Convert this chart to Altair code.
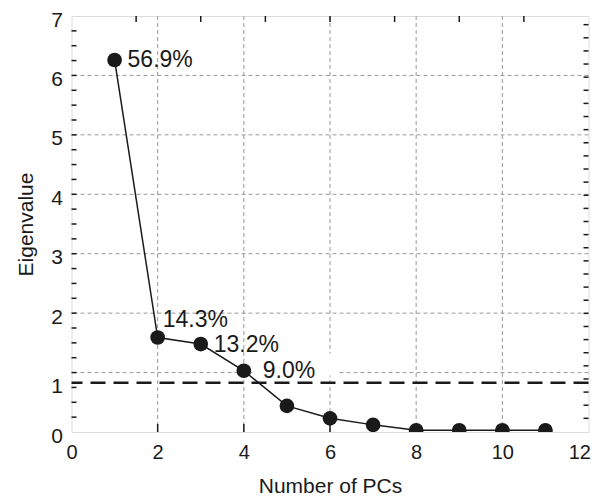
import altair as alt
import pandas as pd

pcs = [1, 2, 3, 4, 5, 6, 7, 8, 9, 10, 11]
eigen = [6.26, 1.59, 1.48, 1.03, 0.44, 0.23, 0.12, 0.03, 0.03, 0.03, 0.03]
pct_labels = ["56.9%", "14.3%", "13.2%", "9.0%"]
threshold = 0.83
y_grid = [1, 2, 3, 4, 5, 6]
x_grid = [2, 4, 6, 8, 10]
y_axis_vals = [0, 0.83, 2, 3, 4, 5, 6, 7]
x_axis_vals = [0, 2, 4, 6, 8, 10, 12]
left_minor = [i * 0.25 for i in range(1, 28)]
right_minor = [0.23 + i * 0.2208 for i in range(0, 31)]
top_ticks = [1.5, 3, 4.5, 6, 7.5, 9, 10.5]
bottom_ticks = [2, 4, 6, 8, 10]

FONT = "Liberation Sans"
NARROW = "Liberation Sans Narrow, Liberation Sans"
W, H = 517, 416

df = pd.DataFrame({"pc": pcs, "ev": eigen})
xs = alt.Scale(domain=[0, 12], nice=False)
ys = alt.Scale(domain=[0, 7], nice=False)

xax = alt.Axis(values=x_axis_vals, grid=False, ticks=False, domain=False,
               labelFontSize=20, labelFont=FONT, labelColor="#1a1a1a",
               labelPadding=10, title="Number of PCs", titleFont=FONT,
               titleFontSize=21, titleFontWeight="normal", titleColor="#1a1a1a",
               titlePadding=13, labelFlush=False,
               labelAlign=alt.condition("datum.value == 12", alt.value("right"), alt.value("center")),
               labelOffset=alt.condition("datum.value == 12", alt.value(2), alt.value(0)))
yax = alt.Axis(values=y_axis_vals, grid=False, ticks=False, domain=False,
               labelExpr="format(round(datum.value), 'd')",
               labelFontSize=21, labelFont=FONT, labelColor="#1a1a1a",
               labelPadding=9, labelOffset=4, title="Eigenvalue", titleFont=FONT,
               titleFontSize=21, titleFontWeight="normal", titleColor="#1a1a1a",
               titlePadding=14, labelFlush=False)

X = alt.X("pc:Q", scale=xs, axis=xax)
Y = alt.Y("ev:Q", scale=ys, axis=yax)

grid_style = dict(color="#999999", strokeDash=[4, 3], strokeWidth=1)

ygrid = alt.Chart(pd.DataFrame({"ev": y_grid})).mark_rule(**grid_style).encode(y=Y)
xgrid = alt.Chart(pd.DataFrame({"pc": x_grid})).mark_rule(**grid_style).encode(x=X)

box = alt.Chart(pd.DataFrame({"pc": [4.2], "pc2": [6.2], "ev": [0.95], "ev2": [1.32]})).mark_rect(
    color="white").encode(x=X, x2="pc2:Q", y=Y, y2="ev2:Q")

thr = alt.Chart(pd.DataFrame({"ev": [threshold]})).mark_rule(
    color="#1a1a1a", strokeWidth=2.5, strokeDash=[15, 8]).encode(y=Y)

line = alt.Chart(df).mark_line(color="#1a1a1a", strokeWidth=1.5, clip=True).encode(x=X, y=Y)
pts = alt.Chart(df).mark_circle(color="#1a1a1a", opacity=1, size=215, clip=True).encode(x=X, y=Y)

def label(i, dx, dy):
    d = pd.DataFrame({"pc": [pcs[i]], "ev": [eigen[i]], "t": [pct_labels[i]]})
    return alt.Chart(d).mark_text(align="left", baseline="middle", dx=dx, dy=dy,
                                  font=NARROW, fontSize=23, color="#1a1a1a").encode(x=X, y=Y, text="t:N")

labels = [label(0, 13, 0), label(1, 5, -18), label(2, 13, 1), label(3, 19, 0)]

tick_color = "#1a1a1a"
lt = alt.Chart(pd.DataFrame({"ev": left_minor})).mark_rule(color=tick_color, strokeWidth=1.5).encode(
    y=Y, x=alt.value(0), x2=alt.value(5))
rt = alt.Chart(pd.DataFrame({"ev": right_minor})).mark_rule(color=tick_color, strokeWidth=1.5).encode(
    y=Y, x=alt.value(W), x2=alt.value(W - 5))
tt = alt.Chart(pd.DataFrame({"pc": top_ticks})).mark_rule(color=tick_color, strokeWidth=1.5).encode(
    x=X, y=alt.value(0), y2=alt.value(6))
bt = alt.Chart(pd.DataFrame({"pc": bottom_ticks})).mark_rule(color=tick_color, strokeWidth=1.5).encode(
    x=X, y=alt.value(H), y2=alt.value(H - 8))

chart = alt.layer(ygrid, xgrid, box, thr, line, pts, *labels, lt, rt, tt, bt).properties(
    width=W, height=H,
    autosize=alt.AutoSizeParams(type="none"),
    padding={"left": 63.5, "top": 8, "right": 3.5, "bottom": 66},
).configure_view(stroke="#1a1a1a", strokeWidth=2.5).configure(background="white")

chart.save("out.html", embed_options={"renderer": "svg", "actions": False})
